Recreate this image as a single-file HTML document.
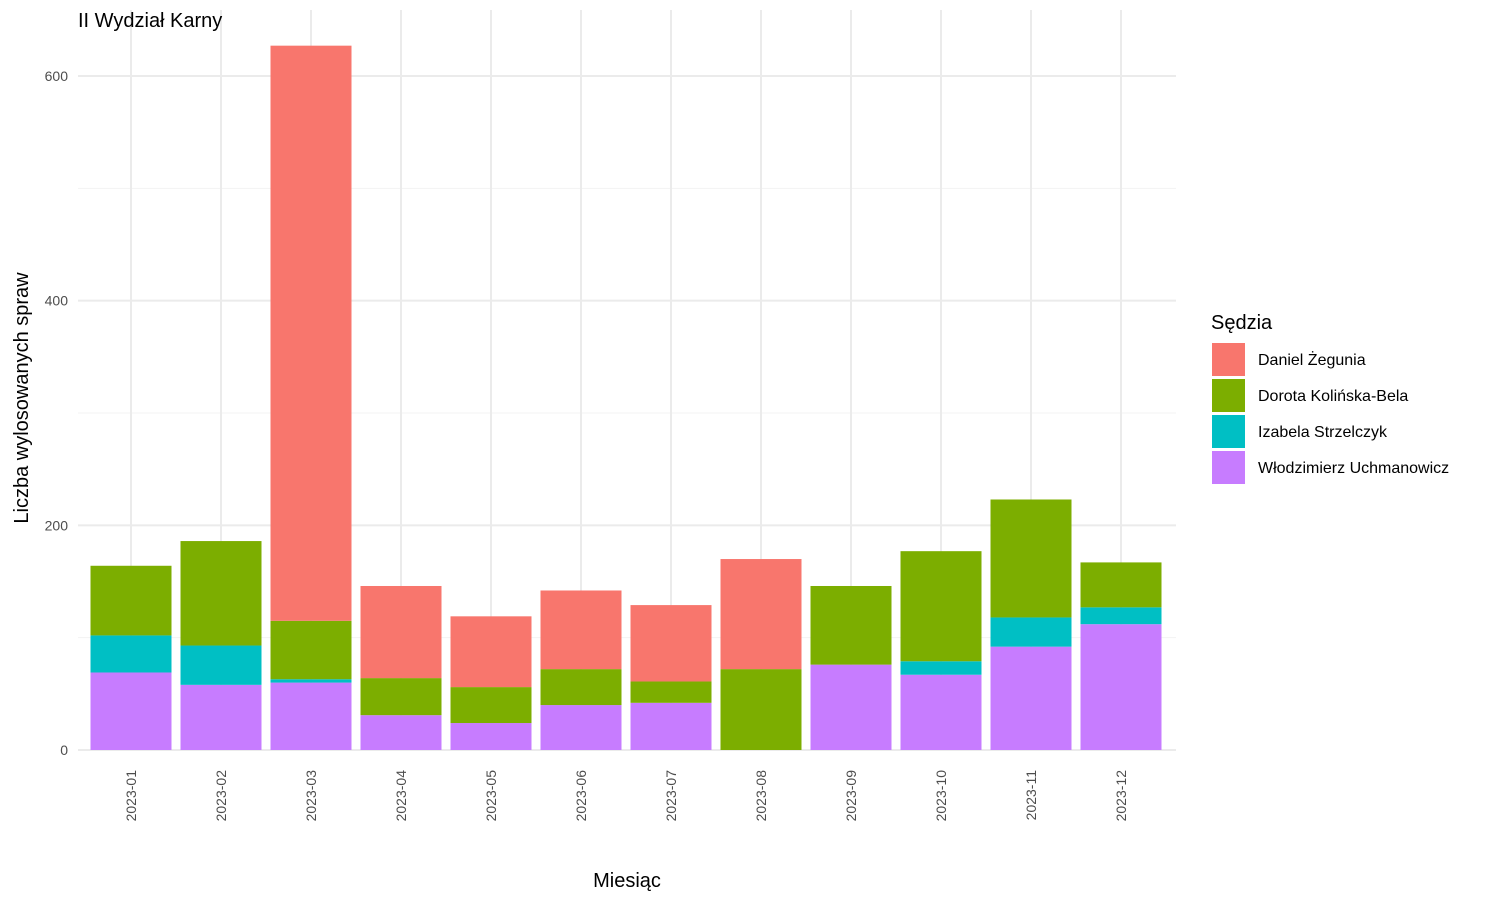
<!DOCTYPE html>
<html><head><meta charset="utf-8"><style>body{margin:0;background:#fff}svg{font-family:"Liberation Sans",sans-serif}</style></head>
<body>
<svg id="c" width="1500" height="900"></svg>
<script>
const months=["2023-01","2023-02","2023-03","2023-04","2023-05","2023-06","2023-07","2023-08","2023-09","2023-10","2023-11","2023-12"];
const wlodzimierz=[69,58,60,31,24,40,42,0,76,67,92,112];
const izabela=[33,35,3,0,0,0,0,0,0,12,26,15];
const dorota=[62,93,52,33,32,32,19,72,70,98,105,40];
const daniel=[0,0,512,82,63,70,68,98,0,0,0,0];
const yTicks=[0,200,400,600];
const yMinor=[100,300,500];
const seriesNames=["Daniel Żegunia","Dorota Kolińska-Bela","Izabela Strzelczyk","Włodzimierz Uchmanowicz"];
const colors=["#F8766D","#7CAE00","#00BFC4","#C77CFF"];
const ns="http://www.w3.org/2000/svg",svg=document.getElementById('c');
const y0=750,k=674/600,x0=131,step=90,bw=81;
const Y=v=>y0-v*k, X=i=>x0+i*step;
function el(t,a,txt){const e=document.createElementNS(ns,t);for(const n in a)e.setAttribute(n,a[n]);if(txt!==undefined)e.textContent=txt;svg.appendChild(e);return e;}
yMinor.forEach(v=>{const l=el('line',{x1:78,x2:1176,y1:Y(v),y2:Y(v),stroke:'#f3f3f3','stroke-width':1});});
yTicks.forEach(v=>{const l=el('line',{x1:78,x2:1176,y1:Y(v),y2:Y(v),stroke:'#ebebeb','stroke-width':2});
const t=el('text',{x:68,y:Y(v)+5,'text-anchor':'end','font-size':14,fill:'#4d4d4d'},v);});
months.forEach((m,i)=>{const l=el('line',{x1:X(i),x2:X(i),y1:10,y2:750,stroke:'#ebebeb','stroke-width':2});});
const stack=[wlodzimierz,izabela,dorota,daniel],cidx=[3,2,1,0];
months.forEach((m,i)=>{let base=0;stack.forEach((s,j)=>{const v=s[i];if(v>0){const r=el('rect',{x:X(i)-bw/2,y:Y(base+v),width:bw,height:v*k,fill:colors[cidx[j]]});}base+=v;});
const t=el('text',{transform:`translate(${X(i)+5},770) rotate(-90)`,'text-anchor':'end','font-size':14,fill:'#4d4d4d'},m);});
let t=el('text',{x:78,y:27,'font-size':20,fill:'#000'},'II Wydział Karny');
t=el('text',{x:627,y:887,'text-anchor':'middle','font-size':20,fill:'#000'},'Miesiąc');
t=el('text',{transform:'translate(28,398) rotate(-90)','text-anchor':'middle','font-size':20,fill:'#000'},'Liczba wylosowanych spraw');
t=el('text',{x:1211,y:329,'font-size':20,fill:'#000'},'Sędzia');
seriesNames.forEach((n,i)=>{const r=el('rect',{x:1212,y:343+i*36,width:33,height:33,fill:colors[i]});
const tx=el('text',{x:1258,y:365+i*36,'font-size':16,fill:'#000'},n);});
</script>
</body></html>
